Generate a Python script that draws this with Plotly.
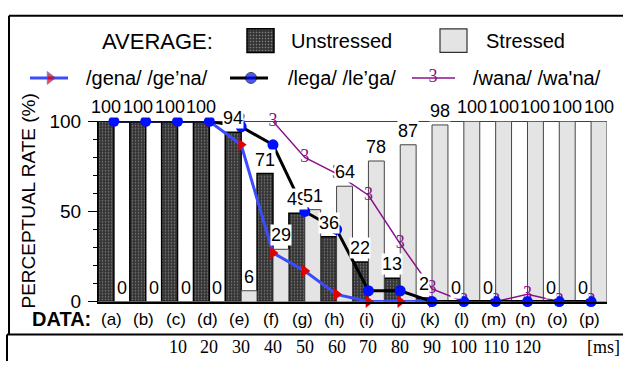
import plotly.graph_objects as go

# ---------------- data ----------------
categories = ["(a)", "(b)", "(c)", "(d)", "(e)", "(f)", "(g)", "(h)",
              "(i)", "(j)", "(k)", "(l)", "(m)", "(n)", "(o)", "(p)"]
unstressed = [100, 100, 100, 100, 94, 71, 49, 36, 22, 13, 2, 0, 0, 0, 0, 0]
stressed = [0, 0, 0, 0, 6, 29, 51, 64, 78, 87, 98, 100, 100, 100, 100, 100]
unstressed_labels = ["100", "100", "100", "100", "94", "71", "49", "36",
                     "22", "13", "2", "0", "0", None, "0", "0"]
stressed_labels = ["0", "0", "0", "0", "6", "29", "51", "64",
                   "78", "87", "98", "100", "100", "100", "100", "100"]
gena = [100, 100, 100, 100, 87, 27, 17, 4, 0, 0, 0, None, None, None, None, None]
lega = [100, 100, 100, 100, 97, 87, 50, 40, 6, 6, 0, 0, 0, 0, 0, 0]
wana = [100, 100, 100, 100, 100, 100, 80, 71, 59, 32, 7, 0, 0, 4, 0, 0]
ms_categories = ["(c)", "(d)", "(e)", "(f)", "(g)", "(h)", "(i)", "(j)",
                 "(k)", "(l)", "(m)", "(n)"]
ms_values = [10, 20, 30, 40, 50, 60, 70, 80, 90, 100, 110, 120]
series_names = ["/gena/ /ge’na/", "/lega/ /le’ga/", "/wana/ /wa'na/"]

W, H = 623, 372
SANS = "Liberation Sans"
SERIF = "Liberation Serif"
PURPLE = "#8b108b"
BLUE_LINE = "#3b4cff"
RED = "#e00000"
DOT_BLUE = "#0010ff"
DARK = "#353535"
LIGHT = "#e4e4e4"

plot_left, plot_right = 98, 607
plot_top, plot_bottom = 118, 309

DARK_PATTERN = dict(shape=".", fgcolor="#cfcfcf", bgcolor=DARK,
                    size=3, solidity=0.2)

fig = go.Figure()

# bars
fig.add_trace(go.Bar(
    x=categories, y=unstressed, name="Unstressed",
    marker=dict(color=DARK, line=dict(color="black", width=1.5),
                pattern=DARK_PATTERN),
    showlegend=False))
fig.add_trace(go.Bar(
    x=categories, y=stressed, name="Stressed",
    marker=dict(color=LIGHT, line=dict(color="#444444", width=1)),
    showlegend=False))

# lines
fig.add_trace(go.Scatter(
    x=categories, y=gena, mode="lines+markers", name=series_names[0],
    line=dict(color=BLUE_LINE, width=3),
    marker=dict(symbol="triangle-right", color=RED, size=11),
    cliponaxis=False, showlegend=False))
fig.add_trace(go.Scatter(
    x=categories, y=wana, mode="lines+text", name=series_names[2],
    text=["3"] * len(categories), textposition="middle center",
    textfont=dict(family=SERIF, size=18, color=PURPLE),
    line=dict(color=PURPLE, width=1.5),
    cliponaxis=False, showlegend=False))
fig.add_trace(go.Scatter(
    x=categories, y=lega, mode="lines+markers", name=series_names[1],
    line=dict(color="black", width=3),
    marker=dict(symbol="circle", color=DOT_BLUE, size=11),
    cliponaxis=False, showlegend=False))

# ---------------- legend samples (pixel overlay axes) ----------------
fig.add_trace(go.Bar(
    x=[260.5], y=[25], base=[20], width=[27], xaxis="x2", yaxis="y2",
    marker=dict(color=DARK, line=dict(color="black", width=1.5),
                pattern=DARK_PATTERN),
    showlegend=False))
fig.add_trace(go.Bar(
    x=[453.5], y=[25], base=[20], width=[27], xaxis="x2", yaxis="y2",
    marker=dict(color=LIGHT, line=dict(color="#333333", width=1.2)),
    showlegend=False))
fig.add_trace(go.Scatter(
    x=[30, 50, 68], y=[72, 72, 72], xaxis="x2", yaxis="y2",
    mode="lines+markers", line=dict(color=BLUE_LINE, width=3),
    marker=dict(symbol="triangle-right", color=RED, size=[0, 11, 0]),
    showlegend=False))
fig.add_trace(go.Scatter(
    x=[230, 251, 268], y=[72, 72, 72], xaxis="x2", yaxis="y2",
    mode="lines+markers", line=dict(color="black", width=3),
    marker=dict(symbol="circle", color=DOT_BLUE, size=[0, 11, 0]),
    showlegend=False))
fig.add_trace(go.Scatter(
    x=[412, 433, 455], y=[72, 72, 72], xaxis="x2", yaxis="y2",
    mode="lines+text", text=["", "3", ""], textposition="middle center",
    textfont=dict(family=SERIF, size=18, color=PURPLE),
    line=dict(color=PURPLE, width=1.5), showlegend=False))

annotations = []

def txt(x, y, s, size=18, xanchor="center", family=SANS, xref="x2",
        yref="y2", bg=None, **kw):
    d = dict(x=x, y=y, text=s, xref=xref, yref=yref, showarrow=False,
             xanchor=xanchor, yanchor="middle",
             font=dict(family=family, size=size, color="black"))
    if bg:
        d.update(bgcolor=bg, borderpad=0)
    d.update(kw)
    annotations.append(d)

# legend texts
txt(100, 33, "AVERAGE:", size=22, xanchor="left")
txt(289, 33, "Unstressed", size=20, xanchor="left")
txt(484, 33, "Stressed", size=20, xanchor="left")
txt(84, 72, series_names[0], size=20, xanchor="left")
txt(286, 72, series_names[1], size=20, xanchor="left")
txt(471, 72, series_names[2], size=20, xanchor="left")

# bar value labels
for c, v, lab in zip(categories, unstressed, unstressed_labels):
    if lab is not None:
        txt(c, v, lab, size=18, xref="x", yref="y", bg="white",
            xshift=-8, yshift=14)
for c, v, lab in zip(categories, stressed, stressed_labels):
    if lab is not None:
        txt(c, v, lab, size=18, xref="x", yref="y", bg="white",
            xshift=8, yshift=14)

# category labels row
txt(61, 328, "<b>DATA:</b>", size=20)
for c in categories:
    txt(c, 328, c, size=17, xref="x", xshift=-2)

# ms row
for c, m in zip(ms_categories, ms_values):
    txt(c, 357, str(m), size=18, xref="x", family=SERIF)
txt(603, 357, "[ms]", size=18, family=SERIF)

# y title
txt(29, 203, "PERCEPTUAL RATE (%)", size=19, textangle=-90)

shapes = [
    # top line of the plot at 100
    dict(type="line", xref="x domain", yref="y", x0=0, x1=1, y0=100, y1=100,
         line=dict(color="black", width=1.5), layer="below"),
    # outer frames
    dict(type="line", xref="x2", yref="y2", x0=9, x1=W + 5, y0=6, y1=6,
         line=dict(color="black", width=2)),
    dict(type="line", xref="x2", yref="y2", x0=9, x1=9, y0=6, y1=344,
         line=dict(color="black", width=2)),
    dict(type="line", xref="x2", yref="y2", x0=7, x1=W + 5, y0=344, y1=344,
         line=dict(color="black", width=2)),
    dict(type="line", xref="x2", yref="y2", x0=7, x1=7, y0=344, y1=H + 5,
         line=dict(color="black", width=2)),
]

fig.update_layout(
    width=W, height=H, autosize=False,
    margin=dict(l=0, r=0, t=0, b=0, pad=0),
    paper_bgcolor="white", plot_bgcolor="rgba(0,0,0,0)",
    barmode="group", bargap=0, bargroupgap=0,
    showlegend=False,
    annotations=annotations, shapes=shapes,
    xaxis=dict(domain=[plot_left / W, plot_right / W], range=[-0.5, 15.5],
               showticklabels=False, ticks="", showgrid=False, zeroline=False,
               showline=True, linecolor="black", linewidth=2, fixedrange=True),
    yaxis=dict(domain=[(H - plot_bottom) / H, (H - plot_top) / H],
               range=[0, 100], tickvals=[0, 50, 100], ticks="outside",
               ticklen=9, tickwidth=1, tickcolor="black",
               ticklabelstandoff=3,
               tickfont=dict(family=SANS, size=19, color="black"),
               showline=True, linecolor="black", linewidth=1,
               showgrid=False, zeroline=False, fixedrange=True,
               minor=dict(dtick=10, ticks="outside", ticklen=4,
                          tickcolor="black", tickwidth=1, showgrid=False)),
    xaxis2=dict(domain=[0, 1], range=[0, W], anchor="y2", visible=False,
                fixedrange=True),
    yaxis2=dict(domain=[0, 1], range=[H, 0], anchor="x2", visible=False,
                fixedrange=True),
)

fig.write_html("out.html",
               config={"displayModeBar": False, "staticPlot": True},
               post_script="document.body.style.margin='0';"
                           "document.body.style.overflow='hidden';")
